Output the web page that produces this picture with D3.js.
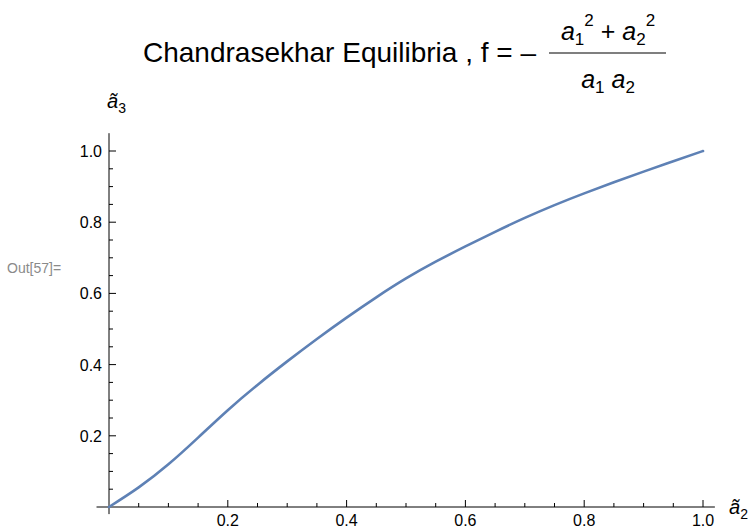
<!DOCTYPE html>
<html>
<head>
<meta charset="utf-8">
<script src="https://cdn.jsdelivr.net/npm/d3@7"></script>
<style>
  html, body { margin: 0; padding: 0; background: #fff; }
  svg { display: block; font-family: "Liberation Sans", Arial, sans-serif; }
</style>
</head>
<body>
<svg id="chart" width="753" height="529"></svg>
<script>
// Normalised equilibrium sequence: ã3 as a function of ã2
const a2Values = [0, 0.05, 0.1, 0.15, 0.2, 0.25, 0.3, 0.35, 0.4, 0.45, 0.5,
                  0.55, 0.6, 0.65, 0.7, 0.75, 0.8, 0.85, 0.9, 0.95, 1.0];
const a3Values = [0, 0.055, 0.12, 0.195, 0.272, 0.343, 0.409, 0.472, 0.532, 0.589, 0.642,
                  0.689, 0.732, 0.773, 0.812, 0.848, 0.881, 0.912, 0.942, 0.971, 1.0];
const xMajorTicks = [0.2, 0.4, 0.6, 0.8, 1.0];
const yMajorTicks = [0.2, 0.4, 0.6, 0.8, 1.0];
const minorStep = 0.05;

const svg = d3.select("#chart");
const lineColor = "#5e81b5";

const x = d3.scaleLinear().domain([0, 1]).range([109, 703]);
const y = d3.scaleLinear().domain([0, 1]).range([507, 151]);

// minor tick positions (0.05 steps, excluding majors)
const xMinor = d3.range(1, 21).map(i => +(i * minorStep).toFixed(2))
  .filter(v => !xMajorTicks.some(t => Math.abs(t - v) < 1e-9));
const yMinor = d3.range(1, 21).map(i => +(i * minorStep).toFixed(2))
  .filter(v => !yMajorTicks.some(t => Math.abs(t - v) < 1e-9));

const axisColor = "#000";
const g = svg.append("g");

// axis lines, spanning the padded plot range
g.append("line")
  .attr("x1", x(-0.021)).attr("x2", x(1.02))
  .attr("y1", y(0)).attr("y2", y(0))
  .attr("stroke", axisColor).attr("stroke-width", 1);
g.append("line")
  .attr("x1", x(0)).attr("x2", x(0))
  .attr("y1", y(-0.02)).attr("y2", y(1.05))
  .attr("stroke", axisColor).attr("stroke-width", 1);

// x ticks (pointing into the plot)
g.selectAll(".xmaj").data(xMajorTicks).join("line")
  .attr("x1", d => x(d)).attr("x2", d => x(d))
  .attr("y1", y(0)).attr("y2", y(0) - 7)
  .attr("stroke", axisColor);
g.selectAll(".xmin").data(xMinor).join("line")
  .attr("x1", d => x(d)).attr("x2", d => x(d))
  .attr("y1", y(0)).attr("y2", y(0) - 4)
  .attr("stroke", axisColor);
g.selectAll(".xlab").data(xMajorTicks).join("text")
  .attr("x", d => x(d)).attr("y", y(0) + 19)
  .attr("text-anchor", "middle")
  .attr("font-size", 16)
  .text(d => d3.format(".1f")(d));

// y ticks
g.selectAll(".ymaj").data(yMajorTicks).join("line")
  .attr("x1", x(0)).attr("x2", x(0) + 7)
  .attr("y1", d => y(d)).attr("y2", d => y(d))
  .attr("stroke", axisColor);
g.selectAll(".ymin").data(yMinor).join("line")
  .attr("x1", x(0)).attr("x2", x(0) + 4)
  .attr("y1", d => y(d)).attr("y2", d => y(d))
  .attr("stroke", axisColor);
g.selectAll(".ylab").data(yMajorTicks).join("text")
  .attr("x", x(0) - 7).attr("y", d => y(d) + 6)
  .attr("text-anchor", "end")
  .attr("font-size", 16)
  .text(d => d3.format(".1f")(d));

// curve
const pts = a2Values.map((v, i) => [v, a3Values[i]]);
svg.append("path")
  .datum(pts)
  .attr("fill", "none")
  .attr("stroke", lineColor)
  .attr("stroke-width", 2.6)
  .attr("stroke-linecap", "round")
  .attr("d", d3.line().x(d => x(d[0])).y(d => y(d[1])).curve(d3.curveNatural));

// axis labels: ã3 and ã2
function tildeLabel(px, py, sub) {
  const t = svg.append("text").attr("x", px).attr("y", py).attr("font-size", 20);
  t.append("tspan").attr("font-style", "italic").text("a\u0303");
  t.append("tspan").attr("font-size", 14).attr("dy", 5).text(sub);
}
tildeLabel(107, 108, "3");
tildeLabel(729, 514, "2");

// cell label
svg.append("text")
  .attr("x", 7).attr("y", 273)
  .attr("font-size", 14)
  .attr("fill", "#8a8a8a")
  .text("Out[57]=");

// title with a stacked fraction
const title = svg.append("g");
title.append("text")
  .attr("x", 143).attr("y", 62)
  .attr("font-size", 28)
  .text("Chandrasekhar Equilibria , f = \u2013");

const num = title.append("text")
  .attr("x", 608).attr("y", 40)
  .attr("text-anchor", "middle")
  .attr("font-size", 25);
num.append("tspan").attr("font-style", "italic").text("a");
num.append("tspan").attr("font-size", 17).attr("dy", 5).text("1");
num.append("tspan").attr("font-size", 17).attr("dy", -19).text("2");
num.append("tspan").attr("dy", 14).text(" + ");
num.append("tspan").attr("font-style", "italic").text("a");
num.append("tspan").attr("font-size", 17).attr("dy", 5).text("2");
num.append("tspan").attr("font-size", 17).attr("dy", -19).text("2");

title.append("line")
  .attr("x1", 549).attr("x2", 666)
  .attr("y1", 53).attr("y2", 53)
  .attr("stroke", "#000").attr("stroke-width", 1.2);

const den = title.append("text")
  .attr("x", 608).attr("y", 88)
  .attr("text-anchor", "middle")
  .attr("font-size", 25);
den.append("tspan").attr("font-style", "italic").text("a");
den.append("tspan").attr("font-size", 17).attr("dy", 5).text("1");
den.append("tspan").attr("dy", -5).text(" ");
den.append("tspan").attr("font-style", "italic").text("a");
den.append("tspan").attr("font-size", 17).attr("dy", 5).text("2");
</script>
</body>
</html>
